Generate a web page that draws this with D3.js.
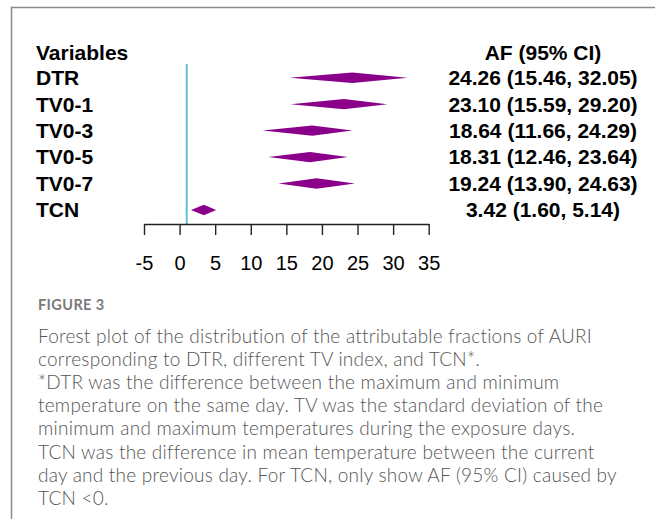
<!DOCTYPE html>
<html>
<head>
<meta charset="utf-8">
<script src="https://cdn.jsdelivr.net/npm/d3@7"></script>
<style>
  body { margin: 0; background: #fff; }
</style>
</head>
<body>
<script>
// data
var variables = ["DTR", "TV0-1", "TV0-3", "TV0-5", "TV0-7", "TCN"];
var af = [24.26, 23.10, 18.64, 18.31, 19.24, 3.42];
var lower = [15.46, 15.59, 11.66, 12.46, 13.90, 1.60];
var upper = [32.05, 29.20, 24.29, 23.64, 24.63, 5.14];
var afLabels = ["24.26 (15.46, 32.05)", "23.10 (15.59, 29.20)", "18.64 (11.66, 24.29)",
  "18.31 (12.46, 23.64)", "19.24 (13.90, 24.63)", "3.42 (1.60, 5.14)"];
var tickValues = [-5, 0, 5, 10, 15, 20, 25, 30, 35];
var refValue = 1;

var captionLines = [
  "Forest plot of the distribution of the attributable fractions of AURI",
  "corresponding to DTR, different TV index, and TCN*.",
  "*DTR was the difference between the maximum and minimum",
  "temperature on the same day. TV was the standard deviation of the",
  "minimum and maximum temperatures during the exposure days.",
  "TCN was the difference in mean temperature between the current",
  "day and the previous day. For TCN, only show AF (95% CI) caused by",
  "TCN <0."
];

var svg = d3.select('body').append('svg')
  .attr('width', 655)
  .attr('height', 519);

// figure frame (left and top border)
svg.append('path')
  .attr('d', 'M11.5,519 L11.5,7.5 L655,7.5')
  .attr('fill', 'none')
  .attr('stroke', '#8a8a8a')
  .attr('stroke-width', 1.5);

var x = d3.scaleLinear().domain([-5, 35]).range([144, 428.7]);
var y = d3.scalePoint().domain(variables).range([77.7, 210]);
var axisY = 224;

var boldFont = '"Liberation Sans", Arial, sans-serif';
var fs = 21;

// headers
svg.append('text')
  .attr('x', 36).attr('y', 60)
  .attr('font-family', boldFont).attr('font-weight', 'bold')
  .attr('font-size', fs).text('Variables');
svg.append('text')
  .attr('x', 543).attr('y', 60)
  .attr('text-anchor', 'middle')
  .attr('font-family', boldFont).attr('font-weight', 'bold')
  .attr('font-size', fs).text('AF (95% CI)');

// row labels
svg.selectAll('.rowlab')
  .data(variables)
  .enter().append('text')
  .attr('class', 'rowlab')
  .attr('x', 36)
  .attr('y', function(d) { return y(d) + 7.4; })
  .attr('font-family', boldFont).attr('font-weight', 'bold')
  .attr('font-size', fs)
  .text(function(d) { return d; });

svg.selectAll('.aflab')
  .data(afLabels)
  .enter().append('text')
  .attr('class', 'aflab')
  .attr('x', 543)
  .attr('y', function(d, i) { return y(variables[i]) + 7.4; })
  .attr('text-anchor', 'middle')
  .attr('font-family', boldFont).attr('font-weight', 'bold')
  .attr('font-size', fs)
  .text(function(d) { return d; });

// reference line
svg.append('line')
  .attr('x1', x(refValue)).attr('x2', x(refValue))
  .attr('y1', 64).attr('y2', axisY)
  .attr('stroke', '#5ec4cc')
  .attr('stroke-width', 2);

// diamonds
var h = 5.2;
svg.selectAll('.diamond')
  .data(variables)
  .enter().append('path')
  .attr('class', 'diamond')
  .attr('d', function(d, i) {
    var cy = y(d);
    return 'M' + x(lower[i]) + ',' + cy +
      'L' + x(af[i]) + ',' + (cy - h) +
      'L' + x(upper[i]) + ',' + cy +
      'L' + x(af[i]) + ',' + (cy + h) + 'Z';
  })
  .attr('fill', '#8b008b');

// x axis (plain hyphen for negatives, like the original)
var axis = svg.append('g')
  .attr('transform', 'translate(0,' + axisY + ')')
  .call(d3.axisBottom(x).tickValues(tickValues).tickSize(11).tickPadding(21)
    .tickSizeOuter(0).tickFormat(function(d) { return String(d); }));
axis.select('.domain').attr('stroke', '#222').attr('stroke-width', 1.4);
axis.selectAll('.tick line').attr('stroke', '#222').attr('stroke-width', 1.4);
axis.selectAll('.tick text')
  .attr('font-family', '"Liberation Sans", Arial, sans-serif')
  .attr('font-size', 20)
  .attr('fill', '#000');

// caption
var capFont = 'Lato, "Open Sans", sans-serif';
svg.append('text')
  .attr('x', 38).attr('y', 310)
  .attr('font-family', capFont)
  .attr('font-weight', 'bold')
  .attr('font-size', 14.5)
  .attr('letter-spacing', 0.4)
  .attr('fill', '#7a7a7a')
  .text('FIGURE 3');

var caps = svg.selectAll('.cap')
  .data(captionLines)
  .enter().append('text')
  .attr('class', 'cap')
  .attr('x', 38)
  .attr('y', function(d, i) { return 342.5 + i * 23.2; })
  .attr('font-family', capFont)
  .attr('font-weight', 300)
  .attr('font-size', 19)
  .attr('fill', '#555')
  .text(function(d) { return d; });

// stretch spacing so the first line runs to the same width as the original
var firstLine = caps.node();
var w = firstLine.getComputedTextLength();
var ls = (554 - w) / (captionLines[0].length - 1);
caps.attr('letter-spacing', Math.max(0, ls));
</script>
</body>
</html>
